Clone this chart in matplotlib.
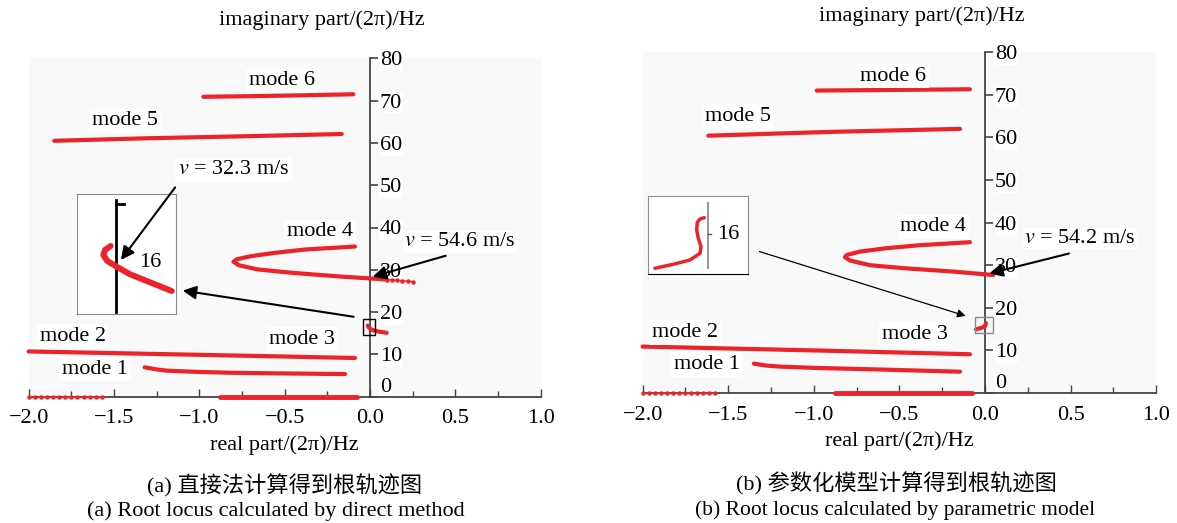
import matplotlib
matplotlib.use('Agg')
import matplotlib.pyplot as plt
from matplotlib.patches import Rectangle, FancyArrowPatch
from matplotlib.ticker import MultipleLocator

plt.rcParams['font.family'] = ['Liberation Serif', 'Noto Sans CJK SC', 'DejaVu Sans']
plt.rcParams['mathtext.fontset'] = 'stix'

RED = '#ec2328'
W, H = 1177, 523

# ---- (a) direct method: root loci (real part, imaginary part)/(2pi) Hz
a_m6_x = [-0.976, -0.70, -0.40, -0.098]
a_m6_y = [70.9, 71.05, 71.25, 71.5]
a_m5_x = [-1.85, -1.30, -0.70, -0.166]
a_m5_y = [60.5, 61.1, 61.6, 62.1]
a_m4_x = [-0.088, -0.38, -0.56, -0.70, -0.78, -0.80, -0.77, -0.66, -0.46, -0.17, 0.10]
a_m4_y = [35.5, 34.8, 34.0, 33.2, 32.5, 31.9, 31.1, 30.1, 29.3, 28.4, 27.7]
a_m4_tail_x = [0.10, 0.13, 0.16, 0.19, 0.22, 0.25]
a_m4_tail_y = [27.7, 27.6, 27.5, 27.4, 27.3, 27.2]
a_m3_x = [-0.013, -0.005, 0.01, 0.05, 0.098]
a_m3_y = [16.8, 16.3, 15.8, 15.4, 15.1]
a_m2_x = [-2.0, -1.5, -1.0, -0.5, -0.088]
a_m2_y = [10.7, 10.3, 9.9, 9.5, 9.15]
a_m1_x = [-1.32, -1.25, -1.19, -1.0, -0.80, -0.5, -0.146]
a_m1_y = [6.95, 6.45, 6.15, 5.85, 5.65, 5.5, 5.35]
a_real_dots = [-2.0, -1.964, -1.928, -1.893, -1.857, -1.821, -1.785,
               -1.75, -1.714, -1.678, -1.642, -1.607, -1.571]
a_real_line = [-0.88, -0.075]
# inset (a), fractions of the inset box
a_ins_x = [0.340, 0.283, 0.266, 0.306, 0.401, 0.535, 0.737, 0.957]
a_ins_y = [0.568, 0.535, 0.493, 0.443, 0.395, 0.332, 0.265, 0.192]

# ---- (b) parametric model
b_m6_x = [-0.983, -0.50, -0.088]
b_m6_y = [71.0, 71.15, 71.3]
b_m5_x = [-1.616, -0.90, -0.146]
b_m5_y = [60.4, 61.3, 62.0]
b_m4_x = [-0.088, -0.38, -0.574, -0.73, -0.808, -0.818, -0.789, -0.672, -0.477, -0.185, 0.048]
b_m4_y = [35.4, 34.7, 34.0, 33.2, 32.4, 31.9, 31.1, 30.0, 29.3, 28.5, 27.7]
b_m3_x = [-0.053, -0.02, 0.0, 0.006]
b_m3_y = [14.95, 15.3, 15.7, 16.4]
b_m2_x = [-2.0, -1.0, -0.088]
b_m2_y = [10.9, 10.0, 9.1]
b_m1_x = [-1.35, -1.28, -1.2, -1.0, -0.6, -0.146]
b_m1_y = [6.9, 6.45, 6.2, 5.9, 5.5, 5.0]
b_real_dots = [-2.0, -1.965, -1.93, -1.895, -1.86, -1.825, -1.79,
               -1.755, -1.72, -1.685, -1.65, -1.615, -1.58]
b_real_line = [-0.876, -0.078]
b_ins_x = [0.067, 0.25, 0.417, 0.517, 0.527, 0.50, 0.484, 0.49, 0.517, 0.56]
b_ins_y = [0.077, 0.128, 0.183, 0.268, 0.352, 0.46, 0.566, 0.664, 0.706, 0.723]

mode_names = ['mode 1', 'mode 2', 'mode 3', 'mode 4', 'mode 5', 'mode 6']
a_label_pos = [(-1.611, 6.5), (-1.742, 14.2), (-0.40, 13.6), (-0.293, 39.0), (-1.435, 65.2), (-0.517, 74.7)]
b_label_pos = [(-1.626, 6.7), (-1.752, 14.2), (-0.409, 13.8), (-0.302, 39.0), (-1.441, 65.0), (-0.536, 74.4)]

FS = 16


def px_axes(fig, x0, y0, x1, y1):
    return fig.add_axes([x0 / W, (H - y1) / H, (x1 - x0) / W, (y1 - y0) / H])


def setup(ax):
    ax.set_xlim(-2, 1)
    ax.set_ylim(0, 80)
    ax.set_facecolor('#f9f9f9')
    for s in ['left', 'top']:
        ax.spines[s].set_visible(False)
    ax.spines['right'].set_position(('data', 0))
    for s in ['right', 'bottom']:
        ax.spines[s].set_color('#444444')
        ax.spines[s].set_linewidth(1.3)
    ax.yaxis.tick_right()
    ax.set_yticks(range(0, 81, 10))
    ax.set_xticks([-2.0, -1.5, -1.0, -0.5, 0.0, 0.5, 1.0])
    ax.set_xticklabels(['\u22122.0', '\u22121.5', '\u22121.0', '\u22120.5', '0.0', '0.5', '1.0'])
    ax.xaxis.set_minor_locator(MultipleLocator(0.25))
    ax.tick_params(axis='y', direction='out', length=6, width=1.2, color='#444444',
                   labelsize=FS, pad=1)
    ax.tick_params(axis='x', which='both', direction='in', length=6, width=1.0,
                   color='#444444', labelsize=FS, pad=9)
    ax.tick_params(axis='x', which='minor', length=4)
    for lab in ax.get_yticklabels():
        lab.set_bbox(dict(facecolor='white', edgecolor='none', pad=0.5))
    ax.get_yticklabels()[0].set_verticalalignment('bottom')


def curve(ax, x, y, lw=3.0):
    ax.plot(x, y, color=RED, lw=lw, solid_capstyle='round', solid_joinstyle='round',
            clip_on=False, zorder=3)


def dots(ax, x, y):
    ax.plot(x, y, color=RED, lw=1.0, marker='o', ms=3.2, mec='none', clip_on=False, zorder=3)


fig = plt.figure(figsize=(W / 100, H / 100), dpi=100)

# ---------------- panel (a)
ax1 = px_axes(fig, 28.6, 58.3, 540.7, 396.7)
setup(ax1)
curve(ax1, a_m6_x, a_m6_y)
curve(ax1, a_m5_x, a_m5_y)
curve(ax1, a_m4_x, a_m4_y)
dots(ax1, a_m4_tail_x, a_m4_tail_y)
curve(ax1, a_m3_x, a_m3_y)
curve(ax1, a_m2_x, a_m2_y)
curve(ax1, a_m1_x, a_m1_y)
dots(ax1, a_real_dots, [0] * len(a_real_dots))
curve(ax1, a_real_line, [0, 0], lw=3.5)
for name, (x, y) in zip(mode_names, a_label_pos):
    ax1.text(x, y, name, fontsize=FS, ha='center', va='center',
             bbox=dict(facecolor='white', edgecolor='none', pad=2))
ax1.add_patch(Rectangle((-0.043, 14.5), 0.072, 3.8, fill=False, ec='black', lw=1.0, zorder=4))
ax1.text(0.527, 36.6, '$v$ = 54.6 m/s', fontsize=FS, ha='center', va='center',
         bbox=dict(facecolor='white', edgecolor='none', pad=1))
ax1.text(-0.80, 53.6, '$v$ = 32.3 m/s', fontsize=FS, ha='center', va='center',
         bbox=dict(facecolor='white', edgecolor='none', pad=2))
ax1.annotate('', xy=(0.0, 28.2), xytext=(0.459, 33.5),
             arrowprops=dict(arrowstyle='-|>', color='black', lw=1.5, mutation_scale=20))
ax1.set_xlabel('real part/(2\u03c0)/Hz', fontsize=FS, labelpad=5)
fig.text(322 / W, 1 - 20 / H, 'imaginary part/(2\u03c0)/Hz', fontsize=FS, ha='center', va='center')

ins1 = px_axes(fig, 77, 194.3, 176, 314)
ins1.set_xlim(0, 1)
ins1.set_ylim(0, 1)
ins1.set_xticks([])
ins1.set_yticks([])
for s in ins1.spines.values():
    s.set_color('#8c8c8c')
ins1.plot([0.394, 0.394], [0.019, 0.952], color='black', lw=2)
ins1.plot([0.394, 0.47], [0.916, 0.916], color='black', lw=2)
ins1.plot(a_ins_x, a_ins_y, color=RED, lw=4.3, solid_capstyle='round', solid_joinstyle='round')
ins1.text(0.737, 0.432, '16', fontsize=FS, ha='center', va='center')

fig.add_artist(FancyArrowPatch((-1.132, 50.0), (-1.469, 31.8), transform=ax1.transData,
                               arrowstyle='-|>', color='black', lw=1.5, mutation_scale=20))
fig.add_artist(FancyArrowPatch((-0.08, 18.8), (-1.113, 25.2), transform=ax1.transData,
                               arrowstyle='-|>', color='black', lw=1.5, mutation_scale=20))

# ---------------- panel (b)
ax2 = px_axes(fig, 642.6, 52.2, 1156.2, 393)
setup(ax2)
curve(ax2, b_m6_x, b_m6_y)
curve(ax2, b_m5_x, b_m5_y)
curve(ax2, b_m4_x, b_m4_y)
curve(ax2, b_m3_x, b_m3_y)
curve(ax2, b_m2_x, b_m2_y)
curve(ax2, b_m1_x, b_m1_y)
dots(ax2, b_real_dots, [0] * len(b_real_dots))
curve(ax2, b_real_line, [0, 0], lw=3.5)
for name, (x, y) in zip(mode_names, b_label_pos):
    ax2.text(x, y, name, fontsize=FS, ha='center', va='center',
             bbox=dict(facecolor='white', edgecolor='none', pad=2))
ax2.add_patch(Rectangle((-0.058, 14.2), 0.107, 3.6, fill=False, ec='#888888', lw=1.0, zorder=4))
ax2.text(0.555, 36.3, '$v$ = 54.2 m/s', fontsize=FS, ha='center', va='center',
         bbox=dict(facecolor='white', edgecolor='none', pad=1))
ax2.annotate('', xy=(0.01, 27.9), xytext=(0.506, 32.9),
             arrowprops=dict(arrowstyle='-|>', color='black', lw=1.5, mutation_scale=20))
ax2.set_xlabel('real part/(2\u03c0)/Hz', fontsize=FS, labelpad=5)
fig.text(922 / W, 1 - 16 / H, 'imaginary part/(2\u03c0)/Hz', fontsize=FS, ha='center', va='center')

ins2 = px_axes(fig, 648.3, 196, 748.3, 274.3)
ins2.set_xlim(0, 1)
ins2.set_ylim(0, 1)
ins2.set_xticks([])
ins2.set_yticks([])
for s in ins2.spines.values():
    s.set_color('#8c8c8c')
ins2.spines['bottom'].set_color('black')
ins2.plot([0.594, 0.594], [0.083, 0.913], color='#999999', lw=1.5)
ins2.plot([0.594, 0.627], [0.511, 0.511], color='#555555', lw=1)
ins2.plot(b_ins_x, b_ins_y, color=RED, lw=2.5, solid_capstyle='round', solid_joinstyle='round')
ins2.text(0.80, 0.511, '16', fontsize=FS, ha='center', va='center')

fig.add_artist(FancyArrowPatch((-1.333, 33.4), (-0.0975, 17.9), transform=ax2.transData,
                               arrowstyle='-|>', color='black', lw=0.9, mutation_scale=12))

# ---------------- captions
fig.text(285 / W, 1 - 486 / H, '(a) 直接法计算得到根轨迹图', fontsize=FS, ha='center', va='center')
fig.text(276 / W, 1 - 511 / H, '(a) Root locus calculated by direct method', fontsize=FS,
         ha='center', va='center')
fig.text(896 / W, 1 - 484 / H, '(b) 参数化模型计算得到根轨迹图', fontsize=FS, ha='center', va='center')
fig.text(895 / W, 1 - 510 / H, '(b) Root locus calculated by parametric model', fontsize=15.5,
         ha='center', va='center')

plt.savefig('out.png', dpi=100)
plt.close()
